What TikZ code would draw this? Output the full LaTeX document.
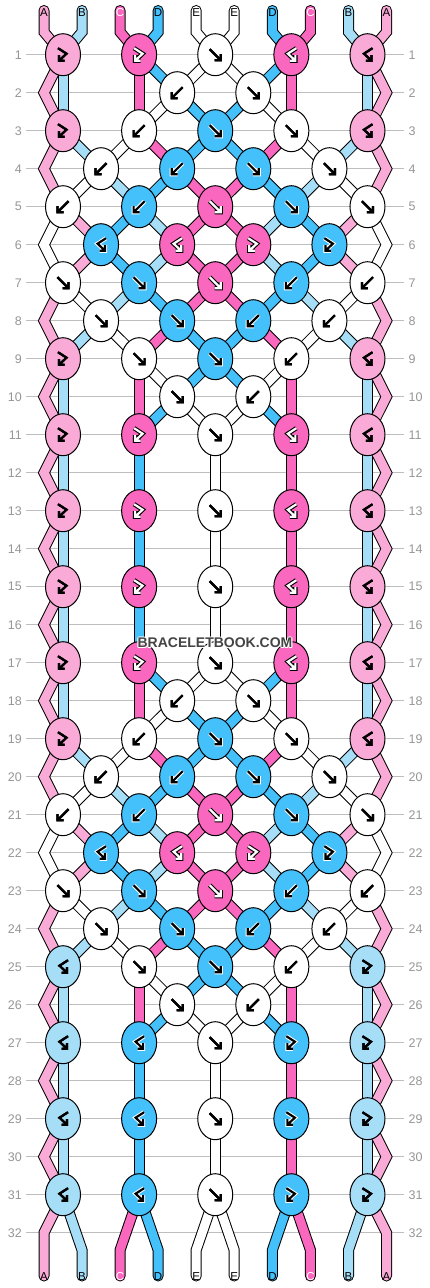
\documentclass[tikz,border=0pt]{standalone}
\usepackage{fontspec}
\setmainfont{Liberation Sans}
\usetikzlibrary{shapes.geometric}
\pgfdeclarelayer{gridlayer}
\pgfdeclarelayer{strlayer}
\pgfsetlayers{gridlayer,strlayer,main}
\definecolor{lp}{HTML}{F9AAD6}
\definecolor{hp}{HTML}{F968BE}
\definecolor{lb}{HTML}{A6DEF8}
\definecolor{db}{HTML}{44C0FA}
\definecolor{w}{HTML}{FFFFFF}
\definecolor{gridc}{HTML}{BEBEBE}
\definecolor{numc}{HTML}{969696}
\definecolor{wmc}{HTML}{444444}
\tikzset{
  halo-lp/.style={black,line width=2.2pt},core-lp/.style={black,line width=2.2pt},
  halo-lb/.style={black,line width=2.2pt},core-lb/.style={black,line width=2.2pt},
  halo-w/.style={black,line width=2.2pt},core-w/.style={black,line width=2.2pt},
  halo-hp/.style={black,line width=4.4pt},core-hp/.style={white,line width=2.2pt},
  halo-db/.style={white,line width=4.2pt},core-db/.style={black,line width=2.2pt},
  pics/gf/.style={code={
    \draw[halo-#1] (-5.5,-5.5) -- (5.5,5.5) (5.5,-0.5) -- (5.5,5.5) -- (-0.5,5.5);
    \draw[core-#1] (-5.5,-5.5) -- (5.5,5.5) (5.5,-0.5) -- (5.5,5.5) -- (-0.5,5.5);}},
  pics/gb/.style={code={
    \draw[halo-#1] (5.5,-5.5) -- (-5.5,5.5) (-5.5,-0.5) -- (-5.5,5.5) -- (0.5,5.5);
    \draw[core-#1] (5.5,-5.5) -- (-5.5,5.5) (-5.5,-0.5) -- (-5.5,5.5) -- (0.5,5.5);}},
  pics/gfb/.style={code={
    \draw[halo-#1] (-5,-6.5) -- (3.5,-1) -- (-4,6) (-4,0.5) -- (-4,6) -- (1.5,6);
    \draw[core-#1] (-5,-6.5) -- (3.5,-1) -- (-4,6) (-4,0.5) -- (-4,6) -- (1.5,6);}},
  pics/gbf/.style={code={
    \draw[halo-#1] (5,-6.5) -- (-3.5,-1) -- (4,6) (4,0.5) -- (4,6) -- (-1.5,6);
    \draw[core-#1] (5,-6.5) -- (-3.5,-1) -- (4,6) (4,0.5) -- (4,6) -- (-1.5,6);}},
}
\newcommand\knot[4]{%
  \node[knotshape, fill=#3] (k-#1-#2) at ({63+38.06*#2},{54.7+38*(#1-1)}) {};
  \edef\tmpk{\noexpand\pic at (k-#1-#2.center) {g#4=#3};}\tmpk}
\begin{document}
\begin{tikzpicture}[x=1pt,y=-1pt,
  strand/.style={draw=black, line width=1pt, double=#1, double distance=9pt, line join=miter},
  knotshape/.style={ellipse, draw=black, line width=1pt, minimum width=35pt, minimum height=42pt, inner sep=0pt},
  lab/.style={font=\fontsize{11.5}{11.5}\selectfont, inner sep=0pt},
  num/.style={font=\fontsize{12.5}{12.5}\selectfont, text=numc, inner sep=0pt},
  wmfont/.style={font=\fontsize{14}{14}\selectfont\bfseries, inner sep=0pt}]
\useasboundingbox (0,0) rectangle (430,1288);
\begin{pgfonlayer}{gridlayer}
  \fill[white] (0,0) rectangle (430,1288);
  \foreach \r in {1,...,32}{
    \pgfmathsetmacro\yy{54.7+38*(\r-1)}
    \draw[gridc, line width=1pt] (26,\yy) -- (404,\yy);
    \node[num, anchor=east] (nl-\r) at (22,\yy) {\r};
    \node[num, anchor=west] (nr-\r) at (408.5,\yy) {\r};
  }
\end{pgfonlayer}
% knots
\foreach \o in {0,16}{
  \foreach \r/\j/\c/\t in {1/0/lp/fb, 1/2/hp/fb, 1/4/w/f, 1/6/hp/bf, 1/8/lp/bf,
    2/3/w/b, 2/5/w/f,
    3/0/lp/fb, 3/2/w/b, 3/4/db/f, 3/6/w/f, 3/8/lp/bf,
    4/1/w/b, 4/3/db/b, 4/5/db/f, 4/7/w/f,
    5/0/w/b, 5/2/db/b, 5/4/hp/f, 5/6/db/f, 5/8/w/f,
    6/1/db/bf, 6/3/hp/bf, 6/5/hp/fb, 6/7/db/fb,
    7/0/w/f, 7/2/db/f, 7/4/hp/f, 7/6/db/b, 7/8/w/b,
    8/1/w/f, 8/3/db/f, 8/5/db/b, 8/7/w/b,
    10/3/w/f, 10/5/w/b}{
    \pgfmathtruncatemacro\rr{\r+\o}
    \knot{\rr}{\j}{\c}{\t}
  }
}
\foreach \r/\j/\c/\t in {9/0/lp/fb, 9/2/w/f, 9/4/db/f, 9/6/w/b, 9/8/lp/bf,
  25/0/lb/bf, 25/2/w/f, 25/4/db/f, 25/6/w/b, 25/8/lb/fb}{
  \knot{\r}{\j}{\c}{\t}
}
\foreach \r in {11,13,15}{
  \foreach \j/\c/\t in {0/lp/fb, 2/hp/fb, 4/w/f, 6/hp/bf, 8/lp/bf}{\knot{\r}{\j}{\c}{\t}}
}
\foreach \r in {27,29,31}{
  \foreach \j/\c/\t in {0/lb/bf, 2/db/bf, 4/w/f, 6/db/fb, 8/lb/fb}{\knot{\r}{\j}{\c}{\t}}
}
% coordinates
\foreach \r in {2,4,...,32}{
  \pgfmathsetmacro\yy{54.7+38*(\r-1)}
  \coordinate (eL-\r) at (44,\yy);
  \coordinate (eR-\r) at (386.5,\yy);
}
\foreach \i/\xx in {1/44,2/82,3/120.1,4/158.1,5/196.2,6/234.2,7/272.4,8/310.4,9/348.5,10/386.5}{
  \coordinate (top-\i) at (\xx,10.5);
  \coordinate (tc-\i) at (\xx,32);
  \coordinate (bc-\i) at (\xx,1250);
  \coordinate (bot-\i) at (\xx,1276);
}
% strands
\begin{pgfonlayer}{strlayer}
\foreach \o in {0,16}{
  \foreach \a/\b/\c/\d/\col in {
    1/0/3/0/lb, 1/2/3/2/hp, 1/2/2/3/db, 1/4/2/3/w, 1/4/2/5/w, 1/6/2/5/db, 1/6/3/6/hp, 1/8/3/8/lb,
    2/3/3/2/w, 2/3/3/4/db, 2/5/3/4/db, 2/5/3/6/w,
    3/0/4/1/lb, 3/2/4/1/w, 3/2/4/3/hp, 3/4/4/3/db, 3/4/4/5/db, 3/6/4/5/hp, 3/6/4/7/w, 3/8/4/7/lb,
    4/1/5/0/w, 4/1/5/2/lb, 4/3/5/2/db, 4/3/5/4/hp, 4/5/5/4/hp, 4/5/5/6/db, 4/7/5/6/lb, 4/7/5/8/w,
    5/0/6/1/lp, 5/2/6/1/db, 5/2/6/3/lb, 5/4/6/3/hp, 5/4/6/5/hp, 5/6/6/5/lb, 5/6/6/7/db, 5/8/6/7/lp,
    6/1/7/0/lp, 6/1/7/2/db, 6/3/7/2/lb, 6/3/7/4/hp, 6/5/7/4/hp, 6/5/7/6/lb, 6/7/7/6/db, 6/7/7/8/lp,
    7/0/8/1/w, 7/2/8/1/lb, 7/2/8/3/db, 7/4/8/3/hp, 7/4/8/5/hp, 7/6/8/5/db, 7/6/8/7/lb, 7/8/8/7/w,
    8/1/9/0/lb, 8/1/9/2/w, 8/3/9/2/hp, 8/3/9/4/db, 8/5/9/4/db, 8/5/9/6/hp, 8/7/9/6/w, 8/7/9/8/lb,
    9/0/11/0/lb, 9/2/11/2/hp, 9/2/10/3/w, 9/4/10/3/db, 9/4/10/5/db, 9/6/10/5/w, 9/6/11/6/hp, 9/8/11/8/lb,
    10/3/11/2/db, 10/3/11/4/w, 10/5/11/4/w, 10/5/11/6/db,
    11/0/13/0/lb, 11/2/13/2/hp, 11/2/13/2/db, 11/4/13/4/w, 11/6/13/6/db, 11/6/13/6/hp, 11/8/13/8/lb,
    13/0/15/0/lb, 13/2/15/2/hp, 13/2/15/2/db, 13/4/15/4/w, 13/6/15/6/db, 13/6/15/6/hp, 13/8/15/8/lb}{
    \pgfmathtruncatemacro\ra{\a+\o}
    \pgfmathtruncatemacro\rb{\c+\o}
    \draw[strand=\col] (k-\ra-\b.center) -- (k-\rb-\d.center);
  }
}
\foreach \a/\b/\c/\d/\col in {15/0/17/0/lb, 15/2/17/2/hp, 15/2/17/2/db, 15/4/17/4/w,
    15/6/17/6/db, 15/6/17/6/hp, 15/8/17/8/lb}{
  \draw[strand=\col] (k-\a-\b.center) -- (k-\c-\d.center);
}
\foreach \r in {1,3,...,29}{
  \pgfmathtruncatemacro\ra{\r+1}
  \pgfmathtruncatemacro\rb{\r+2}
  \pgfmathtruncatemacro\m{mod(\r,16)}
  \ifnum\m=5 \def\zc{w}\else\def\zc{lp}\fi
  \draw[strand=\zc] (k-\r-0.center) -- (eL-\ra) -- (k-\rb-0.center);
  \draw[strand=\zc] (k-\r-8.center) -- (eR-\ra) -- (k-\rb-8.center);
}
\foreach \i/\col in {1/lp,2/lb,3/hp,4/db,5/w,6/w,7/db,8/hp,9/lb,10/lp}{
  \pgfmathtruncatemacro\jj{2*int((\i-1)/2)}
  \draw[strand=\col, line cap=round] (top-\i) -- (tc-\i) -- (k-1-\jj.center);
}
\foreach \i/\col in {2/lb,3/hp,4/db,5/w,6/w,7/db,8/hp,9/lb}{
  \pgfmathtruncatemacro\jj{2*int((\i-1)/2)}
  \draw[strand=\col, line cap=round] (k-31-\jj.center) -- (bc-\i) -- (bot-\i);
}
\draw[strand=lp, line cap=round] (k-31-0.center) -- (eL-32) -- (bot-1);
\draw[strand=lp, line cap=round] (k-31-8.center) -- (eR-32) -- (bot-10);
\end{pgfonlayer}
% labels
\foreach \i/\xx/\L/\tcol in {1/44/A/black,2/82/B/black,3/120.1/C/white,4/158.1/D/black,5/196.2/E/black,
  6/234.2/E/black,7/272.4/D/black,8/310.4/C/white,9/348.5/B/black,10/386.5/A/black}{
  \node[lab, text=\tcol] (lt-\i) at (\xx,12.5) {\L};
  \node[lab, text=\tcol] (lbot-\i) at (\xx,1276.7) {\L};
}
% watermark
\foreach \dx/\dy [count=\n] in {-1/0,1/0,0/-1,0/1,-0.8/-0.8,0.8/0.8,-0.8/0.8,0.8/-0.8}{
  \node[wmfont, text=white, opacity=0.85] (wmh-\n) at (215+\dx,643+\dy) {BRACELETBOOK.COM};
}
\node[wmfont, text=wmc] (wm) at (215,643) {BRACELETBOOK.COM};
\end{tikzpicture}
\end{document}
